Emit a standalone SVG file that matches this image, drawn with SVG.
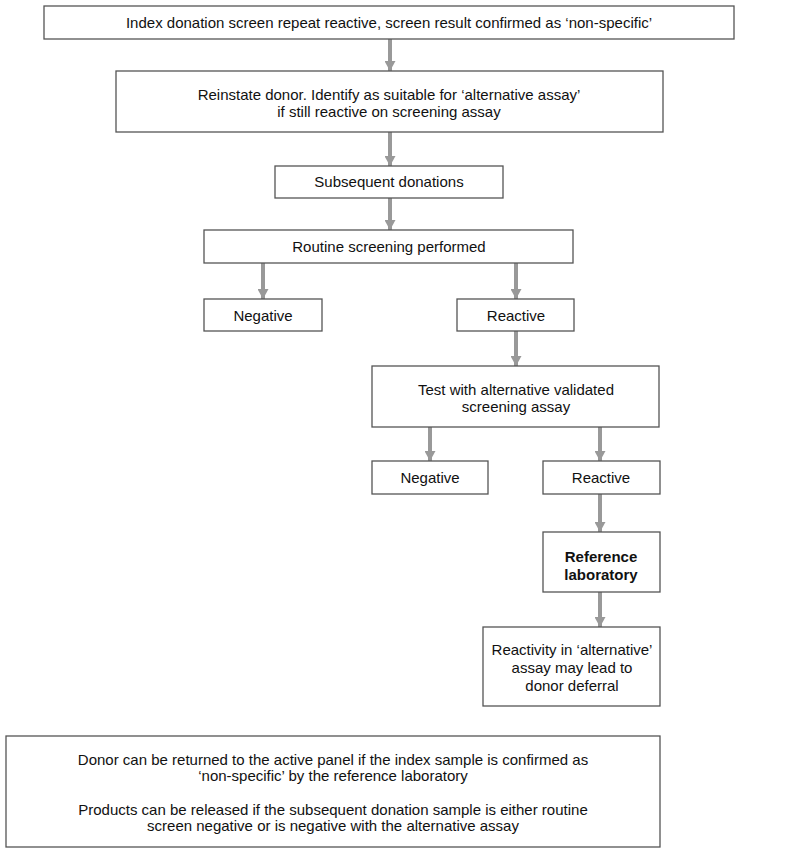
<svg xmlns="http://www.w3.org/2000/svg" width="800" height="863" viewBox="0 0 800 863">
<style>
.box{fill:#fff;stroke:#555;stroke-width:1.3}
.t{font-family:"Liberation Sans",Arial,sans-serif;font-size:15px;fill:#111;text-anchor:middle}
.b{font-weight:bold}
.c{stroke:#999;stroke-width:4;fill:none}
</style>
<defs>
<marker id="ah" markerUnits="userSpaceOnUse" markerWidth="12" markerHeight="11" refX="10" refY="5.5" orient="auto">
<path d="M0,0 L10,5.5 L0,11 Z" fill="#999"/>
</marker>
</defs>
<rect width="800" height="863" fill="#fff"/>
<g id="connectors">
<line class="c" x1="390" y1="39" x2="390" y2="71" marker-end="url(#ah)"/>
<line class="c" x1="390" y1="132" x2="390" y2="166" marker-end="url(#ah)"/>
<line class="c" x1="390" y1="198" x2="390" y2="230" marker-end="url(#ah)"/>
<line class="c" x1="263" y1="263" x2="263" y2="299" marker-end="url(#ah)"/>
<line class="c" x1="516" y1="263" x2="516" y2="299" marker-end="url(#ah)"/>
<line class="c" x1="516" y1="331" x2="516" y2="366" marker-end="url(#ah)"/>
<line class="c" x1="430" y1="427" x2="430" y2="461" marker-end="url(#ah)"/>
<line class="c" x1="600" y1="427" x2="600" y2="461" marker-end="url(#ah)"/>
<line class="c" x1="600" y1="494" x2="600" y2="532" marker-end="url(#ah)"/>
<line class="c" x1="600" y1="592" x2="600" y2="627" marker-end="url(#ah)"/>
</g>
<g id="n1"><rect class="box" x="44" y="6" width="690" height="33"/>
<text class="t" x="389" y="28">Index donation screen repeat reactive, screen result confirmed as ‘non-specific’</text></g>
<g id="n2"><rect class="box" x="116" y="71" width="547" height="61"/>
<text class="t" x="389" y="100">Reinstate donor. Identify as suitable for ‘alternative assay’</text>
<text class="t" x="389" y="117">if still reactive on screening assay</text></g>
<g id="n3"><rect class="box" x="275" y="166" width="228" height="32"/>
<text class="t" x="389" y="187">Subsequent donations</text></g>
<g id="n4"><rect class="box" x="204" y="230" width="369" height="33"/>
<text class="t" x="389" y="252">Routine screening performed</text></g>
<g id="n5"><rect class="box" x="204" y="299" width="118" height="32"/>
<text class="t" x="263" y="321">Negative</text></g>
<g id="n6"><rect class="box" x="457" y="299" width="117" height="32"/>
<text class="t" x="516" y="321">Reactive</text></g>
<g id="n7"><rect class="box" x="372" y="366" width="287" height="61"/>
<text class="t" x="516" y="395">Test with alternative validated</text>
<text class="t" x="516" y="412">screening assay</text></g>
<g id="n8"><rect class="box" x="372" y="461" width="116" height="33"/>
<text class="t" x="430" y="483">Negative</text></g>
<g id="n9"><rect class="box" x="543" y="461" width="117" height="33"/>
<text class="t" x="601" y="483">Reactive</text></g>
<g id="n10"><rect class="box" x="543" y="532" width="117" height="60"/>
<text class="t b" x="601" y="562">Reference</text>
<text class="t b" x="601" y="580">laboratory</text></g>
<g id="n11"><rect class="box" x="483" y="627" width="177" height="79"/>
<text class="t" x="572" y="655">Reactivity in ‘alternative’</text>
<text class="t" x="572" y="673">assay may lead to</text>
<text class="t" x="572" y="691">donor deferral</text></g>
<g id="n12"><rect class="box" x="6" y="736" width="654" height="111"/>
<text class="t" x="333" y="765">Donor can be returned to the active panel if the index sample is confirmed as</text>
<text class="t" x="333" y="781">‘non-specific’ by the reference laboratory</text>
<text class="t" x="333" y="815">Products can be released if the subsequent donation sample is either routine</text>
<text class="t" x="333" y="831">screen negative or is negative with the alternative assay</text></g>
</svg>
